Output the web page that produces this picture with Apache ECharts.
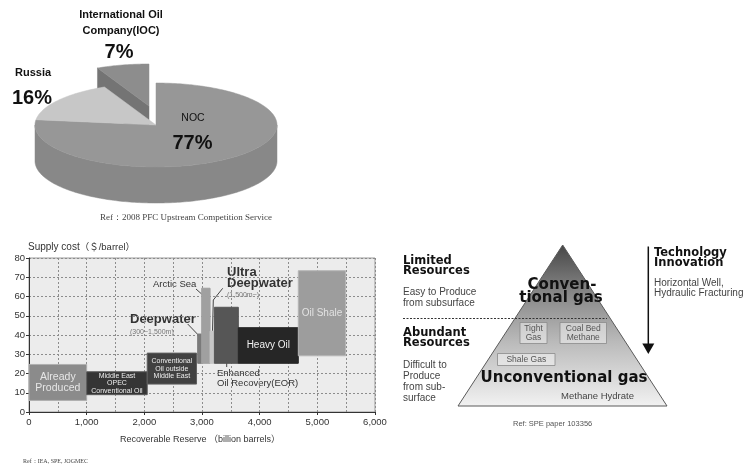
<!DOCTYPE html>
<html><head><meta charset="utf-8">
<script src="https://cdn.jsdelivr.net/npm/echarts@6/dist/echarts.min.js"></script>
<style>html,body{margin:0;padding:0;background:#fff}#c{width:746px;height:470px}</style>
</head><body><div id="c"></div>
<script>
// ---------- Data: upstream market share (pie) ----------
const shareNames = ['NOC', 'Russia', 'International Oil\nCompany(IOC)'];
const shareValues = [77, 16, 7];

// ---------- Data: supply cost vs recoverable reserve ----------
const resourceNames = ['Already Produced', 'Middle East OPEC Conventional Oil', 'Conventional Oil outside Middle East',
  'Deepwater', 'Arctic Sea', 'Ultra Deepwater', 'Enhanced Oil Recovery(EOR)', 'Heavy Oil', 'Oil Shale'];
const innerLabels = ['Already\nProduced', 'Middle East\nOPEC\nConventional Oil', 'Conventional\nOil outside\nMiddle East',
  '', '', '', '', 'Heavy Oil', 'Oil Shale'];
const reserveStart = [0, 1000, 2050, 2925, 2995, 3140, 3215, 3630, 4670];
const reserveEnd   = [1000, 2050, 2905, 2995, 3140, 3215, 3630, 4670, 5490];
const costLow  = [6, 9, 14.5, 25.3, 25.3, 25.3, 25.3, 25.3, 29.2];
const costHigh = [24.7, 20.9, 30.6, 40.5, 64.3, 42, 54.4, 43.8, 73.4];
const xTickLabels = ['0', '1,000', '2,000', '3,000', '4,000', '5,000', '6,000'];
const yTickLabels = ['0', '10', '20', '30', '40', '50', '60', '70', '80'];

// ---------- Styles ----------
const SANS = "'Liberation Sans', Arial, sans-serif";
const HEAVY = "'DejaVu Sans', sans-serif";
const SERIF = "'Liberation Serif', 'DejaVu Serif', serif";
const CJK = "'Liberation Sans', 'Noto Sans CJK JP', sans-serif";

const pieLayout = { cx: 156, cy: 125, rx: 121, ry: 42, depth: 36 };
const pieExplode = { 2: [-7, -19] };
const pieTop = ['#979797', '#c7c7c7', '#8d8d8d'];
const pieSide = ['#888888', '#adadad', '#747474'];
const pieNamePos = [
  { x: 193, y: 118, font: '10.5px ' + SANS, align: 'center', lh: 13 },
  { x: 15, y: 73, font: 'bold 11px ' + SANS, align: 'left', lh: 13 },
  { x: 121, y: 23, font: 'bold 11px ' + SANS, align: 'center', lh: 16.5 }
];
const piePctPos = [
  { x: 192.5, y: 143.5, align: 'center' },
  { x: 12, y: 98.5, align: 'left' },
  { x: 119, y: 52, align: 'center' }
];

const barFill   = ['#8b8b8b', '#353535', '#414141', '#7a7a7a', '#a0a0a0', '#c6c6c6', '#565656', '#262626', '#9d9d9d'];
const barStroke = ['#b0b0b0', '#5a5a5a', '#606060', '#7a7a7a', '#a0a0a0', '#c6c6c6', '#565656', '#262626', '#b5b5b5'];
const innerFont = [10.5, 7, 7, 0, 0, 0, 0, 10, 10];
const innerColor = ['#e6e6e6', '#eeeeee', '#eeeeee', '#fff', '#fff', '#fff', '#fff', '#f0f0f0', '#e2e2e2'];

const chart = echarts.init(document.getElementById('c'), null, { renderer: 'canvas', width: 746, height: 470 });

function pieRender(params, api) {
  const i = params.dataIndex;
  const L = pieLayout;
  const total = shareValues.reduce((a, b) => a + b, 0);
  let cum = 0;
  for (let k = 0; k < i; k++) cum += shareValues[k];
  const v = api.value(0);
  const s = Math.PI / 2 - 2 * Math.PI * cum / total;
  const e = s - 2 * Math.PI * v / total;
  const off = pieExplode[i] || [0, 0];
  const cx = L.cx + off[0], cy = L.cy + off[1];
  const P = (a, d) => [cx + L.rx * Math.cos(a), cy - L.ry * Math.sin(a) + (d || 0)];
  const arc = (a0, a1, d) => {
    const n = Math.max(2, Math.ceil(Math.abs(a1 - a0) / 0.02));
    const pts = [];
    for (let j = 0; j <= n; j++) pts.push(P(a0 + (a1 - a0) * j / n, d));
    return pts;
  };
  const exploded = !!pieExplode[i];
  const zBase = exploded ? 0 : 10;
  const children = [];
  for (let k = -2; k <= 1; k++) {
    const lo = Math.max(e, -Math.PI + 2 * Math.PI * k);
    const hi = Math.min(s, 2 * Math.PI * k);
    if (hi > lo) {
      const pts = arc(hi, lo, 0).concat(arc(lo, hi, L.depth));
      children.push({ type: 'polygon', z2: zBase + 1, shape: { points: pts }, style: { fill: pieSide[i], stroke: pieSide[i], lineWidth: 0.5 } });
    }
  }
  if (exploded) {
    const c0 = [cx, cy], c1 = [cx, cy + L.depth];
    if (Math.cos(s) < 0) {
      children.push({ type: 'polygon', z2: zBase + 1, shape: { points: [c0, P(s), P(s, L.depth), c1] }, style: { fill: pieSide[i], stroke: pieSide[i], lineWidth: 0.5 } });
    }
    if (Math.cos(e) > 0.001) {
      children.push({ type: 'polygon', z2: zBase + 1, shape: { points: [c0, P(e), P(e, L.depth), c1] }, style: { fill: pieSide[i], stroke: pieSide[i], lineWidth: 0.5 } });
    }
  }
  children.push({ type: 'polygon', z2: zBase + 2, shape: { points: [[cx, cy]].concat(arc(s, e, 0)) }, style: { fill: pieTop[i], stroke: pieTop[i], lineWidth: 0.5 } });
  const np = pieNamePos[i], pp = piePctPos[i];
  children.push({ type: 'text', z2: 30, x: np.x, y: np.y, style: { text: shareNames[i], font: np.font, fill: '#111', align: np.align, verticalAlign: 'middle', lineHeight: np.lh } });
  children.push({ type: 'text', z2: 30, x: pp.x, y: pp.y, style: { text: v + '%', font: 'bold 20px ' + SANS, fill: '#111', align: pp.align, verticalAlign: 'middle' } });
  return { type: 'group', children };
}

function barRender(params, api) {
  const i = params.dataIndex;
  const p0 = api.coord([api.value(0), api.value(3)]);
  const p1 = api.coord([api.value(1), api.value(2)]);
  const children = [{
    type: 'rect',
    shape: { x: p0[0], y: p0[1], width: p1[0] - p0[0], height: p1[1] - p0[1] },
    style: { fill: barFill[i], stroke: barStroke[i], lineWidth: 1 }
  }];
  if (innerLabels[i]) {
    children.push({
      type: 'text', x: (p0[0] + p1[0]) / 2, y: (p0[1] + p1[1]) / 2,
      style: { text: innerLabels[i], font: innerFont[i] + 'px ' + SANS, fill: innerColor[i], align: 'center', verticalAlign: 'middle', lineHeight: innerFont[i] + 0.5 }
    });
  }
  return { type: 'group', children };
}

const barData = resourceNames.map((n, i) => ({ name: n, value: [reserveStart[i], reserveEnd[i], costLow[i], costHigh[i]] }));
const pieData = shareNames.map((n, i) => ({ name: n, value: [shareValues[i]] }));

function T(text, x, y, font, fill, align, extra) {
  return Object.assign({ type: 'text', x, y, style: { text, font, fill: fill || '#222', align: align || 'left', verticalAlign: 'middle' } }, extra || {});
}
function L(points, stroke, w, dash) {
  return { type: 'polyline', shape: { points }, style: { stroke: stroke || '#333', lineWidth: w || 1, lineDash: dash || null, fill: null } };
}

const pyramidGradient = new echarts.graphic.LinearGradient(0, 0, 0, 1, [
  { offset: 0, color: '#464646' },
  { offset: 0.3, color: '#878787' },
  { offset: 0.6, color: '#bababa' },
  { offset: 1, color: '#f2f2f2' }
]);
const boxStyle = { fill: 'rgba(255,255,255,0.45)', stroke: '#8a8a8a', lineWidth: 0.8 };

const graphics = [
  T('Ref：2008 PFC Upstream Competition Service', 100, 218, '9px ' + SERIF, '#444'),
  {
    type: 'text', x: 28, y: 247,
    style: {
      text: '{a|Supply cost}{b|（＄/barrel）}', verticalAlign: 'middle', align: 'left',
      rich: { a: { font: '10px ' + SANS, fill: '#333' }, b: { font: '9.5px ' + CJK, fill: '#333' } }
    }
  },
  T('Recoverable Reserve （billion barrels）', 200, 440, '9px ' + CJK, '#333', 'center'),
  T('Ref：IEA, SPE, JOGMEC', 23, 461, '6px ' + SERIF, '#444'),
  T('Arctic Sea', 153, 284, '9.5px ' + SANS, '#333'),
  L([[196, 289], [205, 297]], '#444', 1),
  T('Ultra', 227, 272, 'bold 13px ' + SANS, '#333'),
  T('Deepwater', 227, 283.5, 'bold 13px ' + SANS, '#333'),
  T('(1,500m~)', 227, 295, '7px ' + SANS, '#777'),
  L([[222.7, 288.3], [213.3, 300], [212.5, 331]], '#444', 1),
  T('Deepwater', 130, 319, 'bold 13px ' + SANS, '#333'),
  T('(300~1,500m)', 130, 332, '7px ' + SANS, '#777'),
  L([[187.7, 324], [198.3, 335]], '#444', 1),
  T('Enhanced', 217, 373, '9.5px ' + SANS, '#333'),
  T('Oil Recovery(EOR)', 217, 383.5, '9.5px ' + SANS, '#333'),
  L([[226.7, 357], [226.7, 367]], '#444', 1),
  { type: 'polygon', shape: { points: [[562.7, 245], [458, 406], [667, 406]] }, style: { fill: pyramidGradient, stroke: '#5a5a5a', lineWidth: 1 } },
  L([[403, 318.5], [607, 318.5]], '#333', 1, [2, 1.5]),
  { type: 'rect', shape: { x: 520, y: 322.5, width: 27, height: 21 }, style: boxStyle },
  { type: 'rect', shape: { x: 560, y: 322.5, width: 46.5, height: 21 }, style: boxStyle },
  { type: 'rect', shape: { x: 497.5, y: 353.5, width: 57.5, height: 12 }, style: boxStyle },
  T('Tight', 533.5, 328.5, '8.5px ' + SANS, '#555', 'center'),
  T('Gas', 533.5, 338, '8.5px ' + SANS, '#555', 'center'),
  T('Coal Bed', 583.3, 328.5, '8.5px ' + SANS, '#555', 'center'),
  T('Methane', 583.3, 338, '8.5px ' + SANS, '#555', 'center'),
  T('Shale Gas', 526.3, 359.7, '8.5px ' + SANS, '#555', 'center'),
  T('Conven-', 562, 285, 'bold 15px ' + HEAVY, '#111', 'center'),
  T('tional gas', 561, 298, 'bold 15px ' + HEAVY, '#111', 'center'),
  T('Unconventional gas', 564, 378.5, 'bold 15px ' + HEAVY, '#111', 'center'),
  T('Methane Hydrate', 597.5, 396, '9.5px ' + SANS, '#444', 'center'),
  T('Limited', 403, 261, 'bold 11.5px ' + HEAVY, '#111'),
  T('Resources', 403, 271.5, 'bold 11.5px ' + HEAVY, '#111'),
  T('Easy to Produce', 403, 292.7, '10px ' + SANS, '#444'),
  T('from subsurface', 403, 303.3, '10px ' + SANS, '#444'),
  T('Abundant', 403, 333, 'bold 11.5px ' + HEAVY, '#111'),
  T('Resources', 403, 343.5, 'bold 11.5px ' + HEAVY, '#111'),
  T('Difficult to', 403, 365, '10px ' + SANS, '#444'),
  T('Produce', 403, 376, '10px ' + SANS, '#444'),
  T('from sub-', 403, 387, '10px ' + SANS, '#444'),
  T('surface', 403, 398, '10px ' + SANS, '#444'),
  L([[648.3, 246.5], [648.3, 345]], '#111', 1.5),
  { type: 'polygon', shape: { points: [[642.3, 343.5], [654.3, 343.5], [648.3, 354]] }, style: { fill: '#111' } },
  T('Technology', 654, 253, 'bold 11.5px ' + HEAVY, '#111'),
  T('Innovation', 654, 263.5, 'bold 11.5px ' + HEAVY, '#111'),
  T('Horizontal Well,', 654, 283, '10px ' + SANS, '#444'),
  T('Hydraulic Fracturing', 654, 293.5, '10px ' + SANS, '#444'),
  T('Ref: SPE paper 103356', 513, 423.5, '7.5px ' + SANS, '#555')
];

const option = {
  animation: false,
  backgroundColor: '#ffffff',
  grid: { left: 29, top: 258, width: 346, height: 154, show: true, backgroundColor: '#ececec', borderColor: '#9a9a9a', borderWidth: 1, containLabel: false },
  xAxis: {
    type: 'value', min: 0, max: 6000, interval: 1000,
    axisLine: { show: true, onZero: false, lineStyle: { color: '#333', width: 1 } },
    axisTick: { show: true, length: 3, lineStyle: { color: '#333' } },
    axisLabel: { fontSize: 9.5, fontFamily: SANS, color: '#333', margin: 5, formatter: (v) => xTickLabels[Math.round(v / 1000)] },
    splitLine: { show: true, lineStyle: { color: '#8c8c8c', type: [2, 2] } },
    minorTick: { show: false, splitNumber: 2 },
    minorSplitLine: { show: true, lineStyle: { color: '#8c8c8c', type: [2, 2] } }
  },
  yAxis: {
    type: 'value', min: 0, max: 80, interval: 10,
    axisLine: { show: true, onZero: false, lineStyle: { color: '#333', width: 1 } },
    axisTick: { show: true, length: 3, lineStyle: { color: '#333' } },
    axisLabel: { fontSize: 9.5, fontFamily: SANS, color: '#333', margin: 4, formatter: (v) => yTickLabels[Math.round(v / 10)] },
    splitLine: { show: true, lineStyle: { color: '#8c8c8c', type: [2, 2] } }
  },
  series: [
    { type: 'custom', name: 'share', coordinateSystem: 'none', renderItem: pieRender, data: pieData, silent: true },
    { type: 'custom', name: 'supply', renderItem: barRender, data: barData, encode: { x: [0, 1], y: [2, 3] }, silent: true, clip: false }
  ],
  graphic: graphics
};
chart.setOption(option);
</script>
</body></html>
